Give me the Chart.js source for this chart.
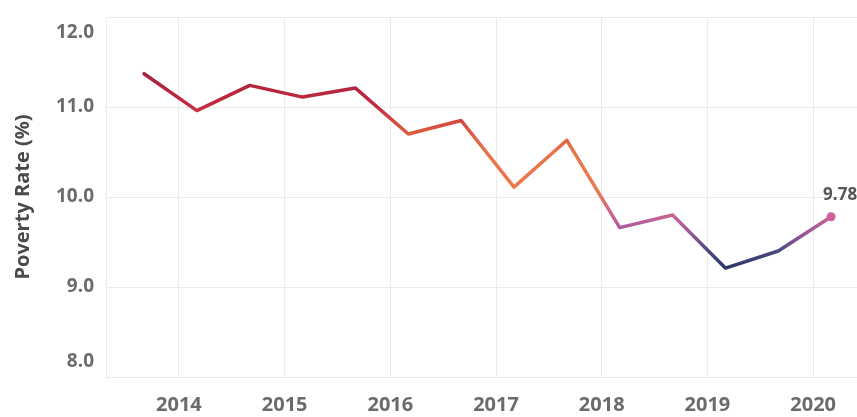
<!DOCTYPE html>
<html>
<head>
<meta charset="utf-8">
<script src="https://cdn.jsdelivr.net/npm/chart.js@4.4.0/dist/chart.umd.min.js"></script>
<style>
    html, body { margin: 0; padding: 0; background: #fff; overflow: hidden; }
    #wrap { width: 880px; height: 417px; }
</style>
</head>
<body>
<div id="wrap"><canvas id="chart" width="880" height="417"></canvas></div>
<script>
// Semi-annual readings (March / September), as decimal years
const periods = [2013.67, 2014.17, 2014.67, 2015.17, 2015.67, 2016.17, 2016.67,
                 2017.17, 2017.67, 2018.17, 2018.67, 2019.17, 2019.67, 2020.17];
const povertyRate = [11.37, 10.96, 11.24, 11.11, 11.21, 10.70, 10.85,
                     10.11, 10.63, 9.66, 9.80, 9.21, 9.40, 9.78];
const yearTicks = [2014, 2015, 2016, 2017, 2018, 2019, 2020];
const rateTicks = [8, 9, 10, 11, 12];

Chart.defaults.font.family = '"Open Sans", sans-serif';

const GRID = '#ebebeb';
const TICK_COLOR = '#6b6b6b';

// line colour depends on the value: crimson at the top, orange, pink, navy at the bottom
const colorStops = [
    [11.4, '#a51f3d'],
    [11.0, '#c42d40'],
    [10.75, '#dd553f'],
    [10.5, '#e8744a'],
    [10.1, '#eb7a4e'],
    [9.9, '#d66c78'],
    [9.75, '#c2619a'],
    [9.6, '#9a5898'],
    [9.4, '#4c4a82'],
    [9.2, '#2a3766']
];

let gradientCache = null;
function lineGradient(context) {
    const chart = context.chart;
    const { ctx, chartArea, scales } = chart;
    if (!chartArea) return '#c6303f';
    if (gradientCache) return gradientCache;
    const top = scales.y.getPixelForValue(colorStops[0][0]);
    const bottom = scales.y.getPixelForValue(colorStops[colorStops.length - 1][0]);
    const g = ctx.createLinearGradient(0, top, 0, bottom);
    colorStops.forEach(([v, c]) => {
        const p = (scales.y.getPixelForValue(v) - top) / (bottom - top);
        g.addColorStop(Math.min(1, Math.max(0, p)), c);
    });
    gradientCache = g;
    return g;
}

// y tick labels, kept inside the plot at the top and bottom
const yLabelsPlugin = {
    id: 'yLabels',
    afterDraw(chart) {
        const { ctx, chartArea, scales } = chart;
        ctx.save();
        ctx.font = 'bold 19px "Open Sans"';
        ctx.fillStyle = TICK_COLOR;
        ctx.textAlign = 'right';
        ctx.textBaseline = 'middle';
        rateTicks.forEach(v => {
            let py = scales.y.getPixelForValue(v);
            py = Math.min(Math.max(py, chartArea.top + 16), chartArea.bottom - 15);
            ctx.fillText(v.toFixed(1), chartArea.left - 12, py);
        });
        ctx.restore();
    }
};

// value label on the last point
const lastLabelPlugin = {
    id: 'lastLabel',
    afterDatasetsDraw(chart) {
        const meta = chart.getDatasetMeta(0);
        const i = meta.data.length - 1;
        const pt = meta.data[i];
        const ctx = chart.ctx;
        ctx.save();
        ctx.font = 'bold 17px "Open Sans"';
        ctx.fillStyle = '#555555';
        ctx.textAlign = 'left';
        ctx.textBaseline = 'middle';
        ctx.fillText(povertyRate[i].toFixed(2), pt.x - 8, pt.y - 22);
        ctx.restore();
    }
};

const points = periods.map((p, i) => ({ x: p, y: povertyRate[i] }));
const radii = povertyRate.map((v, i) => i === povertyRate.length - 1 ? 4.5 : 0);

new Chart(document.getElementById('chart').getContext('2d'), {
    type: 'line',
    data: {
        datasets: [{
            label: 'Poverty Rate (%)',
            data: points,
            borderColor: lineGradient,
            borderWidth: 3.5,
            tension: 0,
            fill: false,
            pointRadius: radii,
            pointBackgroundColor: '#d0619a',
            pointBorderWidth: 0,
            borderJoinStyle: 'round',
            borderCapStyle: 'round'
        }]
    },
    options: {
        responsive: false,
        animation: false,
        layout: { padding: { top: 17, right: 0, bottom: 0, left: 0 } },
        plugins: {
            legend: { display: false },
            tooltip: { enabled: false }
        },
        scales: {
            x: {
                type: 'linear',
                min: 2013.31,
                max: 2020.59,
                afterBuildTicks: axis => { axis.ticks = yearTicks.map(v => ({ value: v })); },
                afterFit: axis => { axis.height = 40; },
                grid: { color: GRID, drawTicks: false },
                border: { color: GRID },
                ticks: {
                    padding: 16,
                    color: TICK_COLOR,
                    font: { size: 20, weight: 'bold' },
                    maxRotation: 0,
                    autoSkip: false,
                    callback: v => String(v)
                }
            },
            y: {
                min: 8,
                max: 12,
                afterBuildTicks: axis => { axis.ticks = rateTicks.map(v => ({ value: v })); },
                afterFit: axis => { axis.width = 106; },
                grid: { color: GRID, drawTicks: false },
                border: { color: GRID },
                ticks: { display: false },
                title: {
                    display: true,
                    text: 'Poverty Rate (%)',
                    color: '#4a4a4a',
                    font: { size: 20, weight: 'bold' },
                    padding: { top: 11, bottom: 0 }
                }
            }
        }
    },
    plugins: [yLabelsPlugin, lastLabelPlugin]
});
</script>
</body>
</html>
